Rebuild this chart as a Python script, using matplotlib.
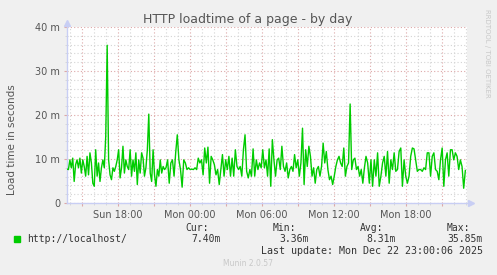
import numpy as np
import pandas as pd
import matplotlib
matplotlib.use('Agg')
import matplotlib.pyplot as plt
import matplotlib.dates as mdates
from matplotlib.ticker import MultipleLocator, FuncFormatter

# load time in ms left to right, in four stretches
seg1 = [
    7.7, 7.6, 9.8, 8.0, 10.2, 4.9, 8.7, 9.8, 8.0, 10.2, 6.8, 9.8, 8.3, 6.1, 10.6, 6.4,
    11.4, 9.1, 4.5, 3.8, 12.1, 6.1, 9.1, 4.9, 8.0, 9.8, 8.0, 15.2, 35.85, 9.8, 6.4, 5.3,
    8.0, 7.2, 8.3, 9.8, 12.1, 5.7, 8.0, 12.9, 6.8, 9.8, 8.3, 7.6, 12.1, 6.1, 9.8, 7.2,
    11.4, 4.2, 9.8, 6.8, 11.4, 10.2, 6.1, 8.0, 12.1, 20.2, 6.8, 4.9, 12.1, 6.4, 3.8, 7.6,
    6.1, 9.8, 6.8, 8.3, 7.6,
]
seg2 = [
    8.0, 9.8, 4.5, 9.1, 9.8, 6.1, 11.4, 15.5, 9.8, 7.6, 3.6, 9.8, 9.1, 7.6, 8.0, 7.6,
    7.7, 7.6, 8.0, 7.6, 10.2, 9.1, 9.8, 6.4, 12.5, 9.1, 12.7, 4.5, 10.6, 9.8, 8.7, 6.4,
    7.6, 4.2, 7.6, 11.0, 6.1, 9.8, 7.6, 10.6, 6.1, 10.2, 6.1, 12.1, 8.3, 7.6, 8.3, 6.1,
    12.1, 15.5, 7.2, 5.7, 7.6, 6.1, 12.3, 6.1, 9.8, 7.6, 9.1, 8.0, 12.1, 8.0,
]
seg3 = [
    9.8, 6.1, 12.3, 3.8, 14.4, 9.8, 6.1, 9.8, 10.2, 7.6, 12.9, 8.3, 7.2, 9.1, 5.7, 7.6,
    8.3, 7.2, 11.0, 8.0, 9.8, 6.1, 9.1, 17.0, 4.2, 12.1, 8.3, 12.9, 10.6, 6.1, 8.0, 4.5,
    7.6, 8.3, 6.1, 8.3, 13.6, 9.1, 11.7, 7.6, 5.3, 6.1, 4.2, 6.1, 8.3, 9.8, 10.6, 9.1,
    8.3, 12.5, 6.1, 8.3, 9.1, 22.5, 7.6, 9.8, 10.2, 7.6, 8.3, 6.1, 7.6, 4.5, 8.0,
]
seg4 = [
    10.6, 9.1, 4.5, 9.8, 3.8, 9.8, 6.1, 11.4, 3.8, 6.1, 9.1, 10.6, 6.1, 11.7, 4.5, 9.8,
    7.6, 11.4, 7.2, 7.6, 11.7, 12.5, 3.8, 9.8, 6.1, 4.5, 6.1, 10.6, 12.5, 12.3, 9.8, 7.2,
    7.6, 7.6, 7.2, 8.0, 7.6, 11.4, 11.4, 6.1, 10.6, 11.4, 7.6, 7.2, 5.3, 9.8, 12.5, 3.8,
    9.8, 11.4, 6.1, 12.1, 12.1, 9.8, 11.4, 10.6, 7.6, 9.8, 8.3, 3.36, 7.4,
]
seg_bounds = ['2025-12-21 13:45', '2025-12-21 22:00', '2025-12-22 06:20',
              '2025-12-22 14:40', '2025-12-22 23:05']
label_hours = [0, 6, 12, 18]

legend_head = ['Cur:', 'Min:', 'Avg:', 'Max:']
legend_vals = ['7.40m', '3.36m', '8.31m', '35.85m']

times, load_ms = [], []
for i, seg in enumerate([seg1, seg2, seg3, seg4]):
    t = pd.date_range(seg_bounds[i], seg_bounds[i + 1], periods=len(seg) + 1)[:-1]
    times.extend(t)
    load_ms.extend(seg)

W, H = 497, 275
fig = plt.figure(figsize=(W / 100, H / 100), dpi=100, facecolor='#F0F0F0')
ax = fig.add_axes([67 / W, 1 - 203 / H, 400 / W, 176 / H])
ax.set_facecolor('white')

txt = '#555555'
mgrid = '#DDA8A8'
sgrid = '#D4D4D4'
axcol = '#C8CEF4'

ax.plot(times, load_ms, color='#00CC00', lw=1.0, zorder=3)

ax.set_xlim(pd.Timestamp(seg_bounds[0]), pd.Timestamp(seg_bounds[-1]))
ax.set_ylim(0, 40)

ax.yaxis.set_major_locator(MultipleLocator(10))
ax.yaxis.set_minor_locator(MultipleLocator(2))
ax.yaxis.set_major_formatter(FuncFormatter(lambda v, p: '0' if v == 0 else '%d m' % v))

ax.xaxis.set_major_locator(mdates.HourLocator(byhour=range(0, 24, 3)))
ax.xaxis.set_minor_locator(mdates.HourLocator())
def xfmt(v, p):
    d = mdates.num2date(v)
    if d.hour in label_hours:
        return d.strftime('%a %H:%M')
    return ''
ax.xaxis.set_major_formatter(FuncFormatter(xfmt))

ax.grid(which='major', color=mgrid, linestyle=(0, (1, 2)), lw=0.8)
ax.grid(which='minor', color=sgrid, linestyle=(0, (1, 2)), lw=0.8)
ax.set_axisbelow(True)

for s in ['top', 'right']:
    ax.spines[s].set_visible(False)
for s in ['left', 'bottom']:
    ax.spines[s].set_color(axcol)
    ax.spines[s].set_linewidth(1.0)

ax.tick_params(which='major', length=2, color=mgrid, labelsize=7, labelcolor=txt, pad=3)
ax.tick_params(which='minor', length=1.5, color=sgrid)

# axis arrows
ax.plot([0], [1.02], marker='^', ms=4, color=axcol, transform=ax.transAxes, clip_on=False)
ax.plot([1.01], [0], marker='>', ms=4, color=axcol, transform=ax.transAxes, clip_on=False)

fig.text(248 / W, 1 - 19 / H, 'HTTP loadtime of a page - by day', ha='center', va='center',
         fontsize=9, color=txt)
fig.text(12 / W, 1 - 140 / H, 'Load time in seconds', rotation=90, ha='center', va='center',
         fontsize=7.5, color=txt)
fig.text(487 / W, 1 - 53 / H, 'RRDTOOL / TOBI OETIKER', rotation=270, ha='center', va='center',
         fontsize=5, color='#C8C8C8')
fig.text(248 / W, 1 - 264 / H, 'Munin 2.0.57', ha='center', va='center',
         fontsize=5.5, color='#C8C8C8')

mono = 'DejaVu Sans Mono'
fig.patches.append(plt.Rectangle((14 / W, 1 - 242 / H), 6 / W, 6 / H, color='#00CC00',
                                 transform=fig.transFigure, figure=fig))
fig.text(27 / W, 1 - 239 / H, 'http://localhost/', ha='left', va='center',
         fontsize=7, family=mono, color='#333333')
head_x = [185, 273, 360, 447]
val_right = [221, 309, 396, 483]
for h, v, hx, vr in zip(legend_head, legend_vals, head_x, val_right):
    fig.text(hx / W, 1 - 228 / H, h, ha='left', va='center', fontsize=7, family=mono, color='#333333')
    fig.text(vr / W, 1 - 239 / H, v, ha='right', va='center', fontsize=7, family=mono, color='#333333')
fig.text(483 / W, 1 - 251 / H, 'Last update: Mon Dec 22 23:00:06 2025', ha='right', va='center',
         fontsize=7.2, family=mono, color='#333333')

fig.savefig('out.png', dpi=100, facecolor=fig.get_facecolor())
